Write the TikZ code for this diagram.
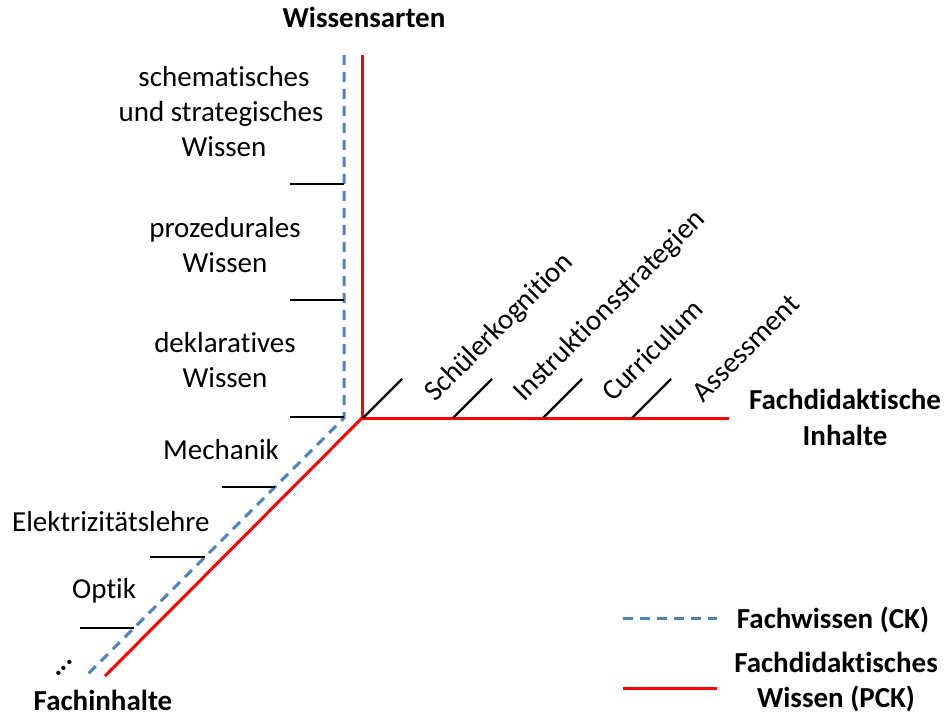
\documentclass[tikz,border=0pt]{standalone}
\usepackage{fontspec}
\setmainfont{Carlito}[RawFeature=-liga]
\definecolor{ckblue}{RGB}{79,129,189}
\tikzset{
  pckline/.style={draw=red, line width=3pt},
  ckline/.style={draw=ckblue, line width=3pt, dash pattern=on 10pt off 7pt},
  ticklin/.style={draw=black, line width=2.4pt},
  lbl/.style={font=\fontsize{29}{35}\selectfont, inner sep=0pt},
  blbl/.style={font=\fontsize{29}{35}\selectfont\bfseries, inner sep=0pt},
}
\begin{document}
\begin{tikzpicture}[x=1pt,y=-1pt]
\useasboundingbox (0,0) rectangle (944,719);
% axes coordinates
\coordinate (O) at (362,418);
\coordinate (Otop) at (362,55);
\coordinate (Oright) at (729,418);
\coordinate (Oend) at (105,676);
\coordinate (B) at (344,418);
\coordinate (Btop) at (344,55);
\coordinate (Bend) at (87,675);
% blue CK line
\draw[ckline] (Btop) -- (B) -- (Bend);
% red PCK lines
\draw[pckline] (Otop) -- (O) -- (Oright);
\draw[pckline] (O) -- (Oend);
% ticks on vertical axis
\coordinate (v1a) at (290,184); \coordinate (v1b) at (344,184);
\coordinate (v2a) at (290,300); \coordinate (v2b) at (344,300);
\coordinate (v3a) at (290,417); \coordinate (v3b) at (344,417);
\draw[ticklin] (v1a) -- (v1b);
\draw[ticklin] (v2a) -- (v2b);
\draw[ticklin] (v3a) -- (v3b);
% ticks on diagonal axis
\coordinate (d1a) at (222,487); \coordinate (d1b) at (275,487);
\coordinate (d2a) at (150,557); \coordinate (d2b) at (205,557);
\coordinate (d3a) at (80,628);  \coordinate (d3b) at (134,628);
\draw[ticklin] (d1a) -- (d1b);
\draw[ticklin] (d2a) -- (d2b);
\draw[ticklin] (d3a) -- (d3b);
% ticks on horizontal axis
\coordinate (h0a) at (363,418); \coordinate (h0b) at (402,379);
\coordinate (h1a) at (453,418); \coordinate (h1b) at (492,379);
\coordinate (h2a) at (543,418); \coordinate (h2b) at (582,379);
\coordinate (h3a) at (632,418); \coordinate (h3b) at (671,379);
\draw[ticklin] (h0a) -- (h0b);
\draw[ticklin] (h1a) -- (h1b);
\draw[ticklin] (h2a) -- (h2b);
\draw[ticklin] (h3a) -- (h3b);
% axis titles
\node[blbl, anchor=base] (wa) at (364,28) {Wissensarten};
\node[blbl, anchor=base] (fd1) at (845,409) {Fachdidaktische};
\node[blbl, anchor=base] (fd2) at (845,445) {Inhalte};
\node[blbl, anchor=base] (fi) at (103,710) {Fachinhalte};
% vertical axis labels
\node[lbl, anchor=base] (s1) at (224,87) {schematisches};
\node[lbl, anchor=base] (s2) at (221,122) {und strategisches};
\node[lbl, anchor=base] (s3) at (224,157) {Wissen};
\node[lbl, anchor=base] (p1) at (225,237) {prozedurales};
\node[lbl, anchor=base] (p2) at (225,272) {Wissen};
\node[lbl, anchor=base] (k1) at (225,352) {deklaratives};
\node[lbl, anchor=base] (k2) at (225,387) {Wissen};
% diagonal axis labels
\node[lbl, anchor=base west] (mech) at (163,459) {Mechanik};
\node[lbl, anchor=base west] (elek) at (12,531) {Elektrizitätslehre};
\node[lbl, anchor=base west] (opt) at (72,598) {Optik};
\node[blbl, rotate=45] (dots) at (64,668) {...};
% horizontal axis labels
\node[lbl, anchor=base west, rotate=45] (sk) at (435,403) {Schülerkognition};
\node[lbl, anchor=base west, rotate=45] (is) at (524,403) {Instruktionsstrategien};
\node[lbl, anchor=base west, rotate=45] (cu) at (613,403) {Curriculum};
\node[lbl, anchor=base west, rotate=45] (as) at (703,404) {Assessment};
% legend
\coordinate (l1a) at (623,618); \coordinate (l1b) at (717,618);
\coordinate (l2a) at (623,688); \coordinate (l2b) at (717,688);
\draw[ckline] (l1a) -- (l1b);
\draw[pckline] (l2a) -- (l2b);
\node[blbl, anchor=base] (lg1) at (833,628) {Fachwissen (CK)};
\node[blbl, anchor=base] (lg2) at (836,672) {Fachdidaktisches};
\node[blbl, anchor=base] (lg3) at (836,707) {Wissen (PCK)};
\end{tikzpicture}
\end{document}
